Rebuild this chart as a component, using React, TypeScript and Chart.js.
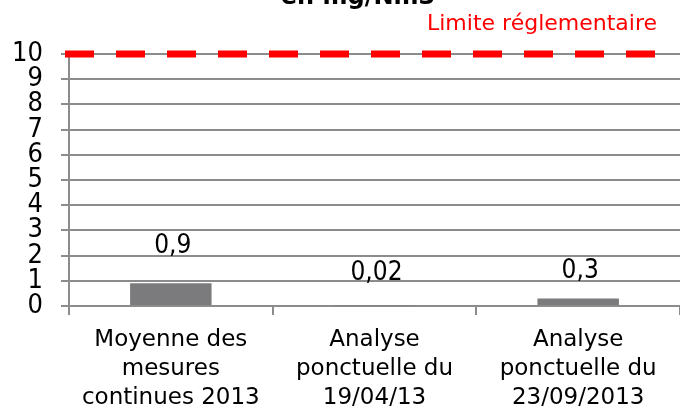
import React, { useEffect, useRef } from "react";
import { Chart, registerables } from "chart.js";

Chart.register(...registerables);

const categories: string[][] = [
  ["Moyenne des", "mesures", "continues 2013"],
  ["Analyse", "ponctuelle du", "19/04/13"],
  ["Analyse", "ponctuelle du", "23/09/2013"],
];
const values = [0.9, 0.02, 0.3];
const valueLabels = ["0,9", "0,02", "0,3"];
const yMin = 0;
const yMax = 10;
const yStep = 1;
const limitValue = 10;
const limitLabel = "Limite réglementaire";
const titleText = "en mg/Nm3";

const GRID = "#8c8c8c";
const BAR = "#7b7b7d";
const RED = "#ff0000";
const NARROW = "'Liberation Sans Narrow', 'DejaVu Sans Condensed', 'Liberation Sans', sans-serif";
const WIDE = "'DejaVu Sans', sans-serif";

const overlayPlugin = {
  id: "overlay",
  afterDatasetsDraw(chart: any) {
    const { ctx, chartArea, scales } = chart;
    const y = scales.y;
    const meta = chart.getDatasetMeta(0);
    ctx.save();
    // limit line
    const ly = y.getPixelForValue(limitValue);
    ctx.strokeStyle = RED;
    ctx.lineWidth = 7;
    ctx.setLineDash([29, 22]);
    ctx.beginPath();
    ctx.moveTo(chartArea.left - 4, ly);
    ctx.lineTo(chartArea.right - 22, ly);
    ctx.stroke();
    ctx.setLineDash([]);
    // value labels
    const offsets = [37, 32, 27];
    ctx.fillStyle = "#000";
    ctx.font = `26px ${NARROW}`;
    ctx.textAlign = "center";
    ctx.textBaseline = "middle";
    meta.data.forEach((bar: any, i: number) => {
      const top = y.getPixelForValue(values[i]);
      ctx.fillText(valueLabels[i], bar.x + 2, top - offsets[i]);
    });
    // limit label
    ctx.fillStyle = RED;
    ctx.font = `22px ${WIDE}`;
    ctx.textAlign = "right";
    ctx.textBaseline = "alphabetic";
    ctx.fillText(limitLabel, 657, 30);
    // title (cut off at top)
    ctx.fillStyle = "#000";
    ctx.font = `bold 24px ${WIDE}`;
    ctx.textAlign = "center";
    ctx.fillText(titleText, 358, 4);
    ctx.restore();
  },
};

export default function App() {
  const ref = useRef<HTMLCanvasElement>(null);
  useEffect(() => {
    if (!ref.current) return;
    const chart = new Chart(ref.current, {
      type: "bar",
      data: {
        labels: categories,
        datasets: [
          {
            data: values,
            backgroundColor: BAR,
            barPercentage: 0.4,
            categoryPercentage: 1,
          },
        ],
      },
      options: {
        animation: false,
        responsive: true,
        maintainAspectRatio: false,
        layout: { padding: { top: 54, right: 0, bottom: 0, left: 0 } },
        plugins: {
          legend: { display: false },
          tooltip: { enabled: false },
          title: { display: false },
        },
        scales: {
          x: {
            offset: true,
            grid: {
              offset: true,
              drawOnChartArea: false,
              drawTicks: true,
              tickLength: 9,
              color: GRID,
              lineWidth: 2,
            },
            border: { display: false },
            ticks: {
              color: "#000",
              font: { family: WIDE, size: 23, lineHeight: 1.27 },
              padding: 10,
              maxRotation: 0,
              autoSkip: false,
            },
            afterFit(scale: any) {
              scale.height = 100;
            },
          },
          y: {
            min: yMin,
            max: yMax,
            ticks: {
              stepSize: yStep,
              autoSkip: false,
              color: "#000",
              font: { family: NARROW, size: 27 },
              padding: 18,
            },
            grid: {
              color: GRID,
              lineWidth: 2,
              tickLength: 8,
              drawTicks: true,
            },
            border: { display: true, color: GRID, width: 2 },
            afterFit(scale: any) {
              scale.width = 69;
            },
          },
        },
      },
      plugins: [overlayPlugin],
    });
    return () => chart.destroy();
  }, []);
  return (
    <div style={{ position: "fixed", left: 0, top: 0, width: 680, height: 406, background: "#fff" }}>
      <canvas ref={ref} />
    </div>
  );
}
